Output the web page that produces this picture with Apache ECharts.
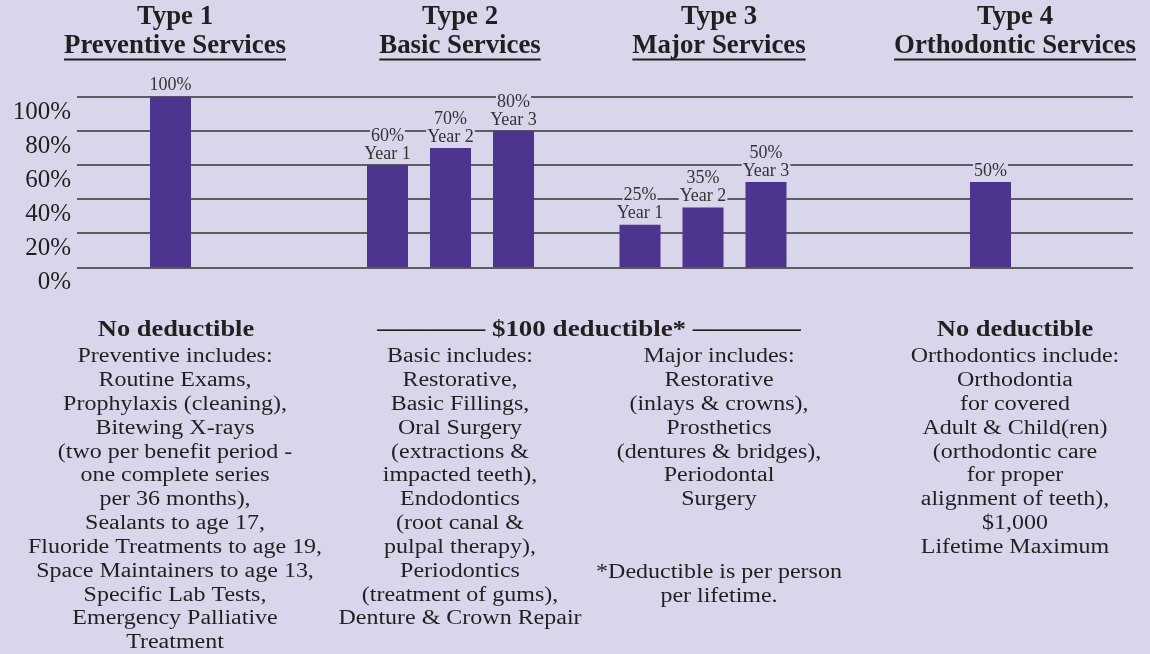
<!DOCTYPE html>
<html>
<head>
<meta charset="utf-8">
<title>Dental Benefits</title>
<script src="https://cdn.jsdelivr.net/npm/echarts@6/dist/echarts.min.js"></script>
<style>
html, body { margin: 0; padding: 0; background: #d9d5eb; }
#chart { width: 1150px; height: 654px; }
</style>
</head>
<body>
<div id="chart"></div>
<script>
// data
var types = ['Type 1', 'Type 2', 'Type 3', 'Type 4'];
var services = ['Preventive Services', 'Basic Services', 'Major Services', 'Orthodontic Services'];
var years = ['Year 1', 'Year 2', 'Year 3'];
var preventive = [100];
var basic = [60, 70, 80];
var major = [25, 35, 50];
var orthodontic = [50];
var yTicks = [0, 20, 40, 60, 80, 100];

var preventiveHead = 'No deductible';
var preventiveText = ['Preventive includes:', 'Routine Exams,', 'Prophylaxis (cleaning),', 'Bitewing X-rays',
  '(two per benefit period -', 'one complete series', 'per 36 months),', 'Sealants to age 17,',
  'Fluoride Treatments to age 19,', 'Space Maintainers to age 13,', 'Specific Lab Tests,',
  'Emergency Palliative', 'Treatment'];
var deductibleHead = '\u2014\u2014\u2014\u2014 $100 deductible* \u2014\u2014\u2014\u2014';
var basicText = ['Basic includes:', 'Restorative,', 'Basic Fillings,', 'Oral Surgery', '(extractions &',
  'impacted teeth),', 'Endodontics', '(root canal &', 'pulpal therapy),', 'Periodontics',
  '(treatment of gums),', 'Denture & Crown Repair'];
var majorText = ['Major includes:', 'Restorative', '(inlays & crowns),', 'Prosthetics',
  '(dentures & bridges),', 'Periodontal', 'Surgery'];
var footnote = ['*Deductible is per person', 'per lifetime.'];
var orthoHead = 'No deductible';
var orthoText = ['Orthodontics include:', 'Orthodontia', 'for covered', 'Adult & Child(ren)',
  '(orthodontic care', 'for proper', 'alignment of teeth),', '$1,000', 'Lifetime Maximum'];

var BG = '#d9d5eb';
var BAR = '#4b358f';
var INK = '#231f20';
var FONT = '"Liberation Serif", "Times New Roman", serif';

var Chart = {
  init: function () {
    var myChart = echarts.init(document.getElementById('chart'));
    myChart.setOption(Chart.option(), true);
  },

  measure: function (text, font) {
    var ctx = document.createElement('canvas').getContext('2d');
    ctx.font = font;
    return ctx.measureText(text).width;
  },

  barGrid: function (left, count) {
    return { left: left, width: 63 * count, top: 96.7, bottom: 386.7 };
  },

  barSeries: function (idx, values, names) {
    var rich = {
      p: { fontSize: 18, fontFamily: FONT, color: '#333', lineHeight: 18, backgroundColor: BG, padding: [0, 1] },
      y: { fontSize: 18, fontFamily: FONT, color: '#333', lineHeight: 18, backgroundColor: BG, padding: [0, 1] }
    };
    return {
      type: 'bar',
      xAxisIndex: idx,
      yAxisIndex: idx,
      data: values,
      barWidth: 41,
      itemStyle: { color: BAR },
      label: {
        show: true,
        position: 'top',
        distance: 2,
        formatter: names ? '{p|{c}%}\n{y|{b}}' : '{p|{c}%}',
        rich: rich
      }
    };
  },

  graphics: function () {
    var g = [];
    var headFont = 'bold 26.8px ' + FONT;
    var headX = [175, 460, 719, 1015];
    types.forEach(function (t, i) {
      g.push({ type: 'text', x: headX[i], y: 17.5, style: { text: t, font: headFont, fill: INK, textAlign: 'center', textVerticalAlign: 'middle', align: 'center', verticalAlign: 'middle' } });
      g.push({ type: 'text', x: headX[i], y: 46, style: { text: services[i], font: headFont, fill: INK, textAlign: 'center', textVerticalAlign: 'middle', align: 'center', verticalAlign: 'middle' } });
      var w = Chart.measure(services[i], headFont);
      g.push({ type: 'rect', shape: { x: headX[i] - w / 2, y: 58.5, width: w, height: 2 }, style: { fill: INK } });
    });

    var boldFont = 'bold 22.7px ' + FONT;
    var bodyFont = '20.5px ' + FONT;
    function head(x, text, sx) {
      g.push({ type: 'text', x: x, y: 330.5, scaleX: sx, style: { text: text, font: boldFont, fill: INK, textAlign: 'center', textVerticalAlign: 'middle', align: 'center', verticalAlign: 'middle' } });
    }
    function body(x, y, lines) {
      g.push({ type: 'text', x: x, y: y, scaleX: 1.17, style: { text: lines.join('\n'), font: bodyFont, lineHeight: 23.83, fill: INK, textAlign: 'center', textVerticalAlign: 'top', align: 'center', verticalAlign: 'top' } });
    }
    head(176, preventiveHead, 1.165);
    head(589, deductibleHead, 1.19);
    head(1015, orthoHead, 1.165);
    body(175, 345, preventiveText);
    body(460, 345, basicText);
    body(719, 345, majorText);
    body(719, 561, footnote);
    body(1015, 345, orthoText);
    return g;
  },

  option: function () {
    return {
      backgroundColor: BG,
      animation: false,
      grid: [
        { left: 77, right: 17, top: 96.7, bottom: 386.7 },
        Chart.barGrid(139, 1),
        Chart.barGrid(356, 3),
        Chart.barGrid(608.5, 3),
        Chart.barGrid(959, 1)
      ],
      xAxis: [
        { gridIndex: 0, type: 'value', min: 0, max: 1, show: false },
        { gridIndex: 1, type: 'category', data: [types[0]], show: false },
        { gridIndex: 2, type: 'category', data: years, show: false },
        { gridIndex: 3, type: 'category', data: years, show: false },
        { gridIndex: 4, type: 'category', data: [types[3]], show: false }
      ],
      yAxis: [
        {
          gridIndex: 0, type: 'value',
          min: yTicks[0], max: yTicks[yTicks.length - 1], interval: yTicks[1] - yTicks[0],
          axisLine: { show: false }, axisTick: { show: false },
          splitLine: { show: true, lineStyle: { color: '#333', width: 1.6 } },
          axisLabel: {
            formatter: '{value}%', fontSize: 25, fontFamily: FONT, color: INK,
            margin: 6, verticalAlign: 'top', lineHeight: 25, padding: [3, 0, 0, 0]
          }
        },
        { gridIndex: 1, type: 'value', min: 0, max: 100, show: false },
        { gridIndex: 2, type: 'value', min: 0, max: 100, show: false },
        { gridIndex: 3, type: 'value', min: 0, max: 100, show: false },
        { gridIndex: 4, type: 'value', min: 0, max: 100, show: false }
      ],
      series: [
        Chart.barSeries(1, preventive, false),
        Chart.barSeries(2, basic, true),
        Chart.barSeries(3, major, true),
        Chart.barSeries(4, orthodontic, false)
      ],
      graphic: Chart.graphics()
    };
  }
};

Chart.init();
</script>
</body>
</html>
